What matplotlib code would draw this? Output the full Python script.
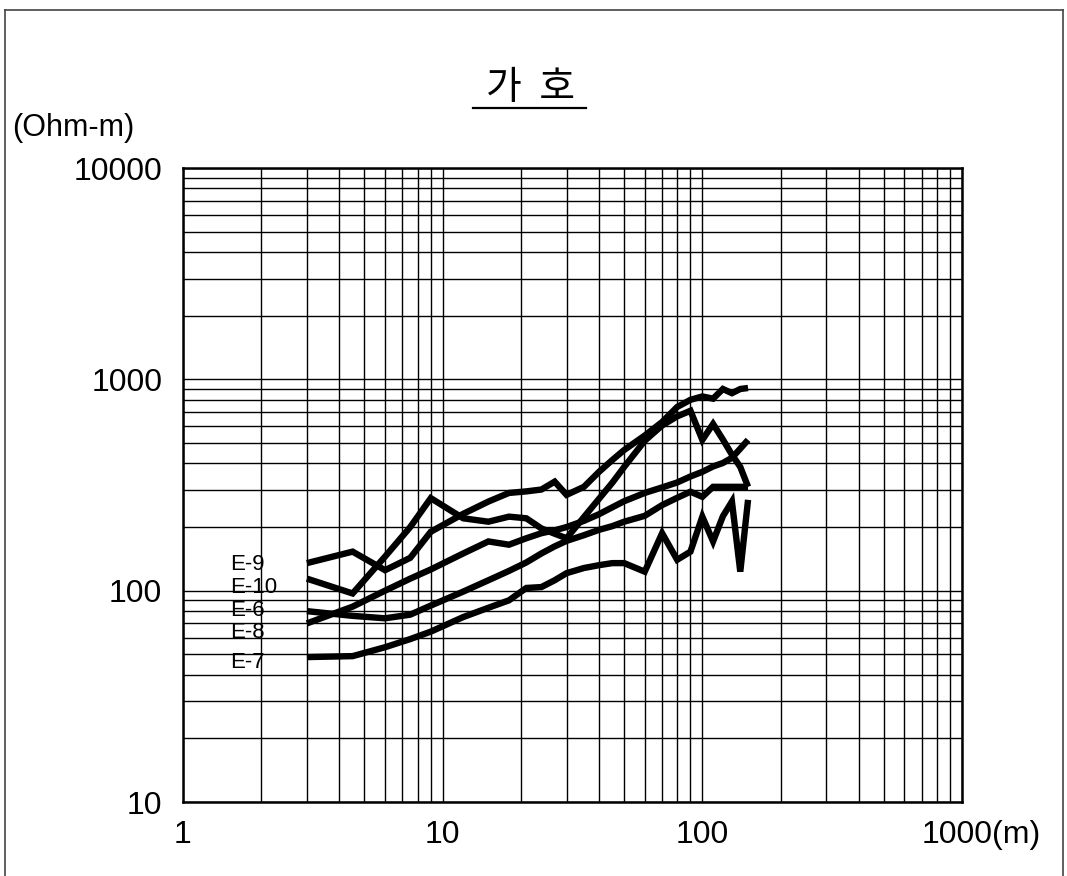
import matplotlib
matplotlib.use("Agg")
import matplotlib.pyplot as plt
from matplotlib.lines import Line2D
from matplotlib.ticker import LogLocator, NullFormatter, FixedLocator, FixedFormatter
import matplotlib.transforms as mtransforms

# ---------------- data ----------------
spacing = [3, 4.5, 6, 7.5, 9, 12, 15, 18, 21, 24, 27, 30, 35, 40, 45, 50,
           60, 70, 80, 90, 100, 110, 120, 130, 140, 150]

e9 = [135, 153, 125, 143, 190, 231, 264, 290, 295, 301, 328, 284, 310, 365,
      415, 463, 542, 628, 740, 800, 830, 810, 900, 860, 900, 910]
e10 = [114, 97, 145, 200, 274, 220, 212, 224, 220, 197, 186, 177, 223, 272,
       324, 385, 512, 605, 668, 710, 517, 615, 519, 440, 385, 310]
e6 = [80, 76, 74, 77, 85, 99, 112, 124, 136, 150, 162, 172, 183, 194,
      202, 212, 226, 254, 275, 294, 278, 310, 310, 310, 310, 310]
e8 = [70, 84, 100, 114, 126, 150, 171, 165, 177, 187, 193, 200, 214, 230,
      248, 265, 290, 308, 325, 347, 365, 387, 402, 425, 470, 517]
e7 = [48.5, 49, 54, 59, 64, 75, 83, 90, 103, 104, 112, 121, 128, 132,
      135, 135, 123, 187, 140, 153, 224, 171, 225, 264, 123, 269]

series_names = ["E-9", "E-10", "E-6", "E-8", "E-7"]
series_values = [e9, e10, e6, e8, e7]
label_x = 1.52
label_y = [133, 103, 81, 63.5, 45.5]

x_ticks = [1, 10, 100, 1000]
x_tick_labels = ["1", "10", "100", ""]
y_ticks = [10, 100, 1000, 10000]
y_tick_labels = ["10", "100", "1000", "10000"]

title_text = "가  호"
unit_y = "(Ohm-m)"
unit_x_label = "1000(m)"

# ---------------- figure ----------------
W, H = 1067, 876
fig = plt.figure(figsize=(W / 100, H / 100), dpi=100)
fig.patch.set_facecolor("white")

ax = fig.add_axes([183 / W, 1 - 802 / H, (962 - 183) / W, (802 - 168) / H])
ax.set_xscale("log")
ax.set_yscale("log")
ax.set_xlim(1, 1000)
ax.set_ylim(10, 10000)

# grid (major + minor)
ax.xaxis.set_major_locator(FixedLocator(x_ticks))
ax.yaxis.set_major_locator(FixedLocator(y_ticks))
ax.xaxis.set_minor_locator(LogLocator(base=10, subs=range(2, 10), numticks=20))
ax.yaxis.set_minor_locator(LogLocator(base=10, subs=range(2, 10), numticks=20))
ax.xaxis.set_minor_formatter(NullFormatter())
ax.yaxis.set_minor_formatter(NullFormatter())
ax.xaxis.set_major_formatter(FixedFormatter(x_tick_labels))
ax.yaxis.set_major_formatter(FixedFormatter(y_tick_labels))
ax.grid(True, which="both", color="black", linewidth=1.0)
ax.set_axisbelow(True)

ax.tick_params(which="both", length=0)
ax.tick_params(axis="x", pad=13)
ax.tick_params(axis="y", pad=15)
tick_font = "Liberation Sans"
tick_size = 23
for lab in ax.get_xticklabels() + ax.get_yticklabels():
    lab.set_fontfamily(tick_font)
    lab.set_fontsize(tick_size)

for sp in ax.spines.values():
    sp.set_linewidth(1.8)
    sp.set_color("black")

# data lines
for vals in series_values:
    ax.plot(spacing, vals, color="black", linewidth=4.6,
            solid_joinstyle="miter", solid_capstyle="butt", zorder=3)

# series labels
for name, ly in zip(series_names, label_y):
    ax.text(label_x, ly, name, fontsize=16, family="Liberation Sans",
            ha="left", va="center", zorder=4)

# "1000(m)" label: '1000' centered on the tick
ax.text(1000, 0, unit_x_label, fontsize=tick_size, family=tick_font,
        ha="left", va="top",
        transform=mtransforms.offset_copy(ax.get_xaxis_transform(), fig=fig,
                                          x=-40, y=-18, units="dots"))

# y unit
fig.text(12 / W, 1 - 128 / H, unit_y, fontsize=22, family=tick_font,
         ha="left", va="center")

# title with underline
fig.text(530 / W, 1 - 88 / H, title_text, fontsize=28,
         family=["Noto Sans CJK KR", "DejaVu Sans"], ha="center",
         va="center")
fig.add_artist(Line2D([473 / W, 586 / W], [1 - 108 / H, 1 - 108 / H],
                      color="black", linewidth=1.6))

# outer frame (scanned page border)
fx0, fx1 = 5 / W, 1063 / W
fy0, fy1 = 0.0, 1 - 10 / H
for xs, ys in [([fx0, fx0], [fy0, fy1]), ([fx0, fx1], [fy1, fy1]),
               ([fx1, fx1], [fy0, fy1])]:
    fig.add_artist(Line2D(xs, ys, color="#444444", linewidth=1.2))

fig.savefig("out.png", dpi=100, facecolor="white")
